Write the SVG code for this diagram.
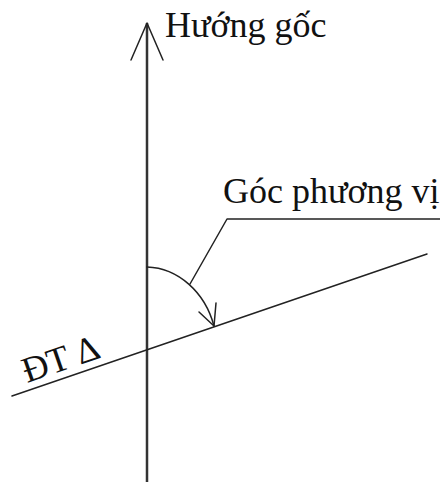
<svg xmlns="http://www.w3.org/2000/svg" width="440" height="485" viewBox="0 0 440 485">
<style>
.ln{fill:none;stroke:#222;stroke-width:1.5;stroke-linecap:round;stroke-linejoin:round}
.ax{fill:none;stroke:#333;stroke-width:2.5}
.t{font-family:"Liberation Serif","Times New Roman",serif;font-size:36px;fill:#111}
</style>
<rect width="440" height="485" fill="#fff"/>
<g id="connectors">
<line class="ax" x1="147" y1="23" x2="147" y2="482"/>
<polyline class="ln" points="131,60 147,23 163,60"/>
<line class="ln" x1="12" y1="396" x2="427" y2="254"/>
<path class="ln" d="M147,267 C178,268 205,292 214,326"/>
<polyline class="ln" points="199,312 214,326 216,303"/>
<polyline class="ln" points="190,284 227,219 440,219"/>
</g>
<g id="huong-goc"><text class="t" x="165" y="37">Hướng gốc</text></g>
<g id="goc-phuong-vi"><text class="t" x="223" y="203">Góc phương vị</text></g>
<g id="dt-delta"><text class="t" x="27" y="383" transform="rotate(-19 27 383)">ĐT Δ</text></g>
</svg>
